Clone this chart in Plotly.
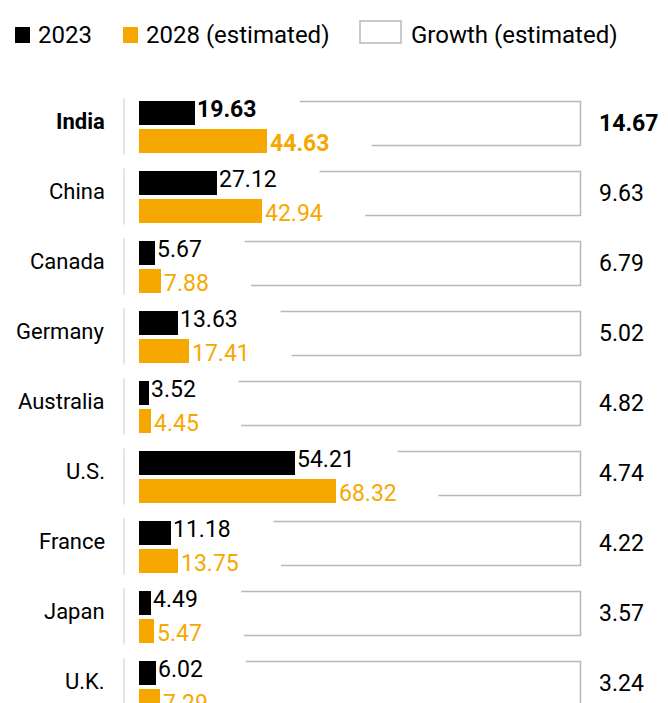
import plotly.graph_objects as go

# ---------------- data ----------------
countries = ["India", "China", "Canada", "Germany", "Australia", "U.S.", "France", "Japan", "U.K."]
values_2023 = [19.63, 27.12, 5.67, 13.63, 3.52, 54.21, 11.18, 4.49, 6.02]
values_2028 = [44.63, 42.94, 7.88, 17.41, 4.45, 68.32, 13.75, 5.47, 7.29]
growth = [14.67, 9.63, 6.79, 5.02, 4.82, 4.74, 4.22, 3.57, 3.24]
highlight = ["India"]

legend_labels = ["2023", "2028 (estimated)", "Growth (estimated)"]

# ---------------- style / layout constants ----------------
PAGE_MARGIN = 8                      # browser default body margin
W, H = 668 - PAGE_MARGIN, 703 - PAGE_MARGIN
BLACK = "#000000"
ORANGE = "#F6A800"
GRAY = "#b8b8b8"
FONT = "Roboto, Liberation Sans, sans-serif"
SIZE_CAT = 22
SIZE_VAL = 23
SIZE_LEG = 24

def P(px):
    """reference-picture pixel -> figure pixel"""
    return px - PAGE_MARGIN

PPU = 2.885            # pixels per data unit on x
X0 = P(138.5)          # figure pixel of x = 0
ROW0 = P(126.5)        # figure pixel centre of first row
PITCH = 70.0           # row pitch in pixels
OFF = 14.0 / PITCH     # bar offset from row centre
BW = 24.0 / PITCH      # bar thickness

def px_to_x(px):
    return (px - X0) / PPU

def x_to_px(x):
    return X0 + x * PPU

def fmt(v):
    return f"{v:.2f}"

def text_w(s, size, bold=False):
    w = 0.0
    for ch in s:
        w += 0.263 if ch == "." else 0.562
    return w * size * (1.03 if bold else 1.0)

n = len(countries)
rows = list(range(n))

fig = go.Figure()
fig.add_trace(go.Bar(
    x=values_2023, y=[r - OFF for r in rows], orientation="h",
    width=BW, marker=dict(color=BLACK, line=dict(width=0)),
    hoverinfo="skip", showlegend=False))
fig.add_trace(go.Bar(
    x=values_2028, y=[r + OFF for r in rows], orientation="h",
    width=BW, marker=dict(color=ORANGE, line=dict(width=0)),
    hoverinfo="skip", showlegend=False))

ann = []
shapes = []
RIGHT_PX = P(580.5)
GAP = 45
for i, c in enumerate(countries):
    b = c in highlight
    wrap = (lambda s: f"<b>{s}</b>") if b else (lambda s: s)
    # category label
    ann.append(dict(x=P(107) / W, xref="paper", y=i, yref="y", text=wrap(c),
                    xanchor="right", yanchor="middle", yshift=5, showarrow=False,
                    font=dict(family=FONT, size=SIZE_CAT, color=BLACK)))
    # value labels
    ann.append(dict(x=values_2023[i], y=i - OFF, text=wrap(fmt(values_2023[i])),
                    xanchor="left", yanchor="middle", xshift=0, yshift=3, showarrow=False,
                    font=dict(family=FONT, size=SIZE_VAL, color=BLACK)))
    ann.append(dict(x=values_2028[i], y=i + OFF, text=wrap(fmt(values_2028[i])),
                    xanchor="left", yanchor="middle", xshift=1, yshift=-3, showarrow=False,
                    font=dict(family=FONT, size=SIZE_VAL, color=ORANGE)))
    # growth label
    ann.append(dict(x=P(597) / W, xref="paper", y=i, yref="y", text=wrap(fmt(growth[i])),
                    xanchor="left", yanchor="middle", yshift=3, showarrow=False,
                    font=dict(family=FONT, size=SIZE_VAL, color=BLACK)))
    # vertical baseline segment
    shapes.append(dict(type="line", xref="paper", x0=P(124) / W, x1=P(124) / W,
                       yref="y", y0=i - OFF - BW / 2 - 0.03, y1=i + OFF + BW / 2 + 0.03,
                       line=dict(color="#cccccc", width=1)))
    # growth bracket
    top_start = x_to_px(values_2023[i]) + text_w(fmt(values_2023[i]), SIZE_VAL, b) + GAP
    bot_start = x_to_px(values_2028[i]) + text_w(fmt(values_2028[i]), SIZE_VAL, b) + GAP
    yt = i - 25.0 / PITCH
    yb = i + 19.0 / PITCH
    xr = px_to_x(RIGHT_PX)
    shapes.append(dict(type="path", xref="x", yref="y",
                       path=f"M {px_to_x(top_start)},{yt} L {xr},{yt} L {xr},{yb} L {px_to_x(bot_start)},{yb}",
                       line=dict(color=GRAY, width=1.5)))

# legend
LEG_Y = P(35)
def py(p):
    return 1 - p / H
shapes.append(dict(type="rect", xref="paper", yref="paper", x0=P(15) / W, x1=P(30) / W,
                   y0=py(P(43)), y1=py(P(27)), fillcolor=BLACK, line=dict(width=0)))
shapes.append(dict(type="rect", xref="paper", yref="paper", x0=P(123) / W, x1=P(138) / W,
                   y0=py(P(43)), y1=py(P(27)), fillcolor=ORANGE, line=dict(width=0)))
shapes.append(dict(type="rect", xref="paper", yref="paper", x0=P(360) / W, x1=P(401) / W,
                   y0=py(P(43)), y1=py(P(21)), fillcolor="white", line=dict(color=GRAY, width=1.5)))
for xp, t in zip([36, 144, 409], legend_labels):
    ann.append(dict(x=P(xp) / W, xref="paper", y=py(LEG_Y), yref="paper", text=t,
                    xanchor="left", yanchor="middle", showarrow=False,
                    font=dict(family=FONT, size=SIZE_LEG, color=BLACK)))

fig.update_layout(
    width=W, height=H,
    margin=dict(l=0, r=0, t=0, b=0),
    paper_bgcolor="white", plot_bgcolor="white",
    barmode="overlay", bargap=0,
    xaxis=dict(visible=False, range=[px_to_x(0), px_to_x(W)], fixedrange=True),
    yaxis=dict(visible=False, range=[(H - ROW0) / PITCH, -ROW0 / PITCH], fixedrange=True),
    annotations=ann, shapes=shapes, showlegend=False,
)
fig.write_html("out.html")
